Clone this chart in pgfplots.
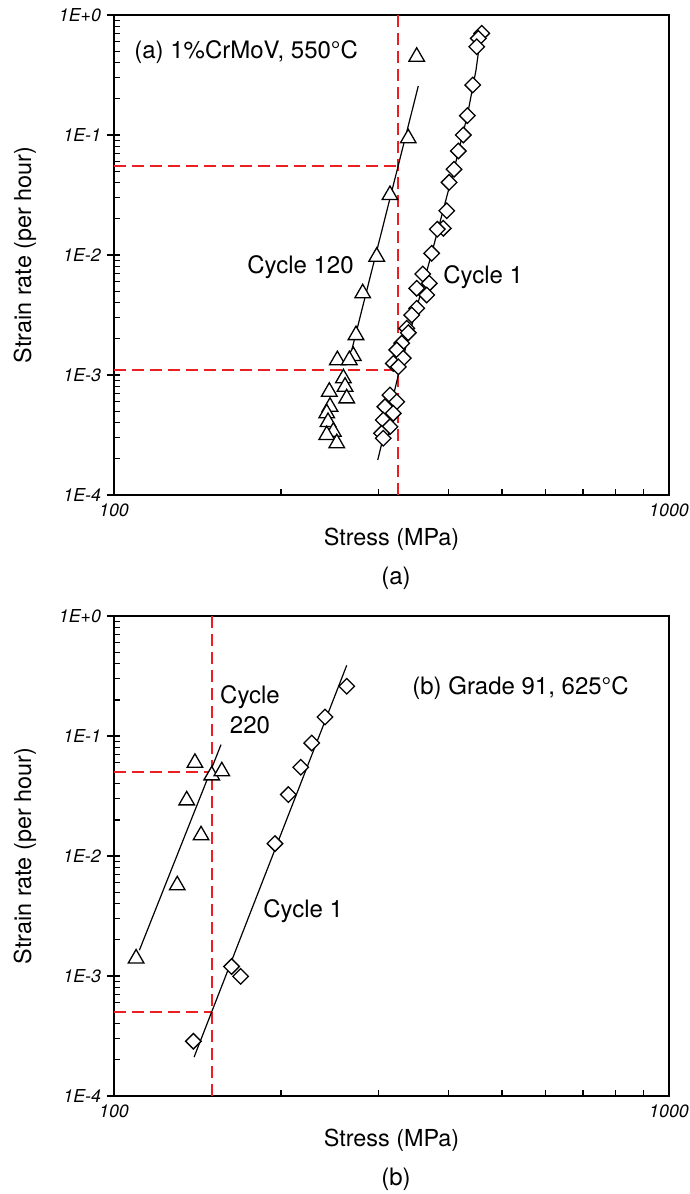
\documentclass[border=0pt]{standalone}
\usepackage{fontspec}
\setmainfont{TeX Gyre Heros}
\usepackage{pgfplots}
\usepackage{pgfplotstable}
\pgfplotsset{compat=1.18}
\definecolor{refred}{RGB}{235,30,35}

% Panel (a): 1%CrMoV, 550C
\pgfplotstableread{
s e
351.1 0.449
339.0 0.0939
314.2 0.0316
297.4 0.00968
280.6 0.00480
272.9 0.00215
269.9 0.00144
252.6 0.00133
265.5 0.00133
259.0 0.000939
260.8 0.000799
244.3 0.000726
262.6 0.000639
245.0 0.000544
241.7 0.000480
243.0 0.000406
248.4 0.000337
241.7 0.000316
252.0 0.000270
}\triA
\pgfplotstableread{
s e
459.8 0.704
453.3 0.639
450.3 0.544
442.9 0.261
433.1 0.145
426.0 0.100
417.3 0.0736
409.9 0.0518
401.5 0.0403
397.7 0.0234
392.1 0.0167
382.4 0.0164
373.6 0.01033
360.0 0.00695
369.9 0.00581
351.1 0.00528
366.0 0.00464
351.1 0.00360
343.9 0.00316
336.9 0.00245
339.1 0.00225
329.9 0.00184
323.2 0.00162
332.1 0.00138
318.6 0.00125
325.3 0.00117
314.2 0.000681
323.2 0.000599
307.7 0.000544
318.6 0.000480
305.6 0.000422
314.2 0.000371
303.5 0.000327
305.6 0.000297
}\diaA
\pgfplotstableread{
s e
268.2 0.00162
353.4 0.256
}\fitTriA
\pgfplotstableread{
s e
298.7 0.000196
327.6 0.00114
373.6 0.01033
409.9 0.0518
433.1 0.145
449.0 0.348
458.5 0.708
}\fitDiaA

% Panel (b): Grade 91, 625C
\pgfplotstableread{
s e
109.6 0.00140
130.0 0.00570
135.2 0.0291
139.9 0.0598
143.5 0.01488
150.0 0.0470
156.4 0.0508
}\triB
\pgfplotstableread{
s e
262.6 0.260
240.0 0.144
227.1 0.0874
217.0 0.0549
206.1 0.0325
195.0 0.01269
162.9 0.00120
169.1 0.000994
139.0 0.000286
}\diaB
\pgfplotstableread{
s e
111.1 0.00164
155.9 0.0848
}\fitTriB
\pgfplotstableread{
s e
139.4 0.000211
262.6 0.388
}\fitDiaB

\pgfplotsset{
  mypanel/.style={
    scale only axis,
    width=277.5pt, height=240pt,
    xmin=100, xmax=1000, ymin=1e-4, ymax=1,
    xtick={100,1000}, xticklabels={\textit{100},\textit{1000}},
    ytick={1e-4,1e-3,1e-2,1e-1,1},
    yticklabels={\textit{1E-4},\textit{1E-3},\textit{1E-2},\textit{1E-1},\textit{1E+0}},
    xtick pos=bottom, ytick pos=left,
    tick align=inside, major tick length=3pt, minor tick length=2.8pt,
    extra y ticks={1e-4,1e-3,1e-2,1e-1,1}, extra y tick labels={},
    extra y tick style={tick align=outside, major tick length=3.5pt},
    axis line style={line width=0.75pt},
    tick style={black, line width=0.6pt},
    every tick label/.append style={font=\fontsize{8.9}{10}\selectfont},
    yticklabel style={xshift=-3pt},
    xticklabel style={yshift=-1pt},
    label style={font=\fontsize{11.7}{13}\selectfont},
    xlabel={Stress (MPa)}, ylabel={Strain rate (per hour)},
    xlabel style={at={(axis description cs:0.5,-0.0917)}, anchor=center},
    ylabel style={at={(axis description cs:-0.1604,0.5)}, anchor=center},
    clip=false,
  },
  mydash/.style={refred, line width=1pt, dash pattern=on 6pt off 3pt},
  mytri/.style={only marks, mark=triangle*, mark size=4.5pt,
    mark options={fill=white, draw=black, line width=0.65pt}},
  mydia/.style={only marks, mark=square*, mark size=2.75pt,
    mark options={rotate=45, fill=white, draw=black, line width=0.65pt}},
  myfit/.style={black, line width=0.6pt, no marks},
}

\begin{document}
\begin{tikzpicture}
\begin{loglogaxis}[mypanel, at={(57pt,-247.5pt)}, anchor=south west]
  \addplot[mydash] coordinates {(100,0.055) (325,0.055)};
  \addplot[mydash] coordinates {(100,0.0011) (325,0.0011)};
  \addplot[mydash] coordinates {(325,1e-4) (325,1)};
  \addplot[mytri] table[x=s,y=e] {\triA};
  \addplot[mydia] table[x=s,y=e] {\diaA};
  \addplot[myfit] table[x=s,y=e] {\fitTriA};
  \addplot[myfit] table[x=s,y=e] {\fitDiaA};
\end{loglogaxis}

\begin{loglogaxis}[mypanel, at={(57pt,-548pt)}, anchor=south west]
  \addplot[mydash] coordinates {(100,0.05) (150,0.05)};
  \addplot[mydash] coordinates {(100,0.0005) (150,0.0005)};
  \addplot[mydash] coordinates {(150,1e-4) (150,1)};
  \addplot[mytri] table[x=s,y=e] {\triB};
  \addplot[mydia] table[x=s,y=e] {\diaB};
  \addplot[myfit] table[x=s,y=e] {\fitTriB};
  \addplot[myfit] table[x=s,y=e] {\fitDiaB};
\end{loglogaxis}

\begin{scope}[every node/.style={font=\fontsize{12}{14.5}\selectfont, inner sep=0pt}]
  \node[anchor=west] at (67pt,-26pt) {(a) 1\%CrMoV, 550°C};
  \node at (150.25pt,-133.5pt) {Cycle 120};
  \node[anchor=west] at (221.5pt,-138.5pt) {Cycle 1};
  \node at (198pt,-289pt) {(a)};
  \node[anchor=west] at (206pt,-344pt) {(b) Grade 91, 625°C};
  \node[align=center] at (125pt,-354.75pt) {Cycle\\[0.5pt]220};
  \node[anchor=west] at (131.5pt,-455.5pt) {Cycle 1};
  \node at (198pt,-589.5pt) {(b)};
\end{scope}
\pgfresetboundingbox
\useasboundingbox (0pt,0pt) rectangle (345pt,-597pt);
\end{tikzpicture}
\end{document}
